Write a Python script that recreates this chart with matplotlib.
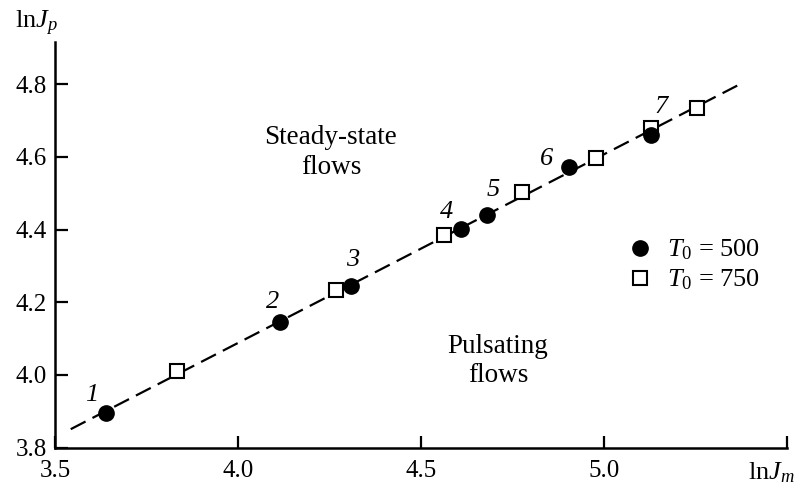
import matplotlib
matplotlib.use("Agg")
import matplotlib.pyplot as plt

plt.rcParams['font.family'] = ['Liberation Serif', 'DejaVu Serif']
plt.rcParams['mathtext.fontset'] = 'custom'
plt.rcParams['mathtext.rm'] = 'Liberation Serif'
plt.rcParams['mathtext.it'] = 'Liberation Serif:italic'
plt.rcParams['mathtext.bf'] = 'Liberation Serif:bold'

# Data: T0 = 500 (filled circles)
x500 = [3.639, 4.115, 4.309, 4.609, 4.681, 4.905, 5.128]
y500 = [3.895, 4.146, 4.245, 4.401, 4.440, 4.573, 4.660]
labels500 = ['1', '2', '3', '4', '5', '6', '7']
label_x = [3.600, 4.095, 4.314, 4.569, 4.696, 4.843, 5.157]
label_y = [3.945, 4.201, 4.315, 4.448, 4.509, 4.594, 4.738]

# Data: T0 = 750 (open squares)
x750 = [3.834, 4.267, 4.564, 4.777, 4.977, 5.128, 5.255]
y750 = [4.012, 4.234, 4.385, 4.503, 4.596, 4.679, 4.734]

# Boundary line (dashed)
line_x = [3.543, 5.364]
line_y = [3.851, 4.796]

xticks = [3.5, 4.0, 4.5, 5.0, 5.5]
xticklabels = ['3.5', '4.0', '4.5', '5.0', '']
yticks = [3.8, 4.0, 4.2, 4.4, 4.6, 4.8]
yticklabels = ['3.8', '4.0', '4.2', '4.4', '4.6', '4.8']

fig = plt.figure(figsize=(8, 4.87), dpi=100)
ax = fig.add_axes([55/800, 1-447.7/487, (787-55)/800, (447.7-42)/487])

ax.plot(line_x, line_y, color='black', lw=1.6, linestyle=(0, (7.5, 3.5)), zorder=1)
ax.plot(x500, y500, 'o', color='black', markersize=11, zorder=3, linestyle='none',
        label='$T_0$ = 500')
ax.plot(x750, y750, 's', markerfacecolor='white', markeredgecolor='black',
        markeredgewidth=1.5, markersize=10, zorder=2, linestyle='none',
        label='$T_0$ = 750')

for lx, ly, t in zip(label_x, label_y, labels500):
    ax.text(lx, ly, t, fontsize=19, style='italic', ha='center', va='center')

ax.text(4.254, 4.613, 'Steady-state\nflows', fontsize=19.5, ha='center', va='center',
        linespacing=1.25)
ax.text(4.710, 4.0385, 'Pulsating\nflows', fontsize=19.5, ha='center', va='center',
        linespacing=1.25)

ax.set_xlim(3.5, 5.5)
ax.set_ylim(3.8, 4.916)
ax.set_xticks(xticks)
ax.set_xticklabels(xticklabels)
ax.set_yticks(yticks)
ax.set_yticklabels(yticklabels)
ax.tick_params(direction='in', length=9, width=1.6, labelsize=18)
ax.tick_params(axis='x', pad=9)
ax.tick_params(axis='y', pad=6)
for s in ['top', 'right']:
    ax.spines[s].set_visible(False)
for s in ['left', 'bottom']:
    ax.spines[s].set_linewidth(1.8)

leg = ax.legend(loc='center left', bbox_to_anchor=(0.785, 0.45), frameon=False,
                fontsize=19, handlelength=0.8, handletextpad=0.6,
                labelspacing=0.2, borderpad=0, borderaxespad=0)

fig.text(15/800, 1-28/487, r'$\mathrm{ln}J_p$', fontsize=19, ha='left', va='baseline')
fig.text(748/800, 1-479/487, r'$\mathrm{ln}J_m$', fontsize=19, ha='left', va='baseline')

fig.savefig('out.png', dpi=100)
